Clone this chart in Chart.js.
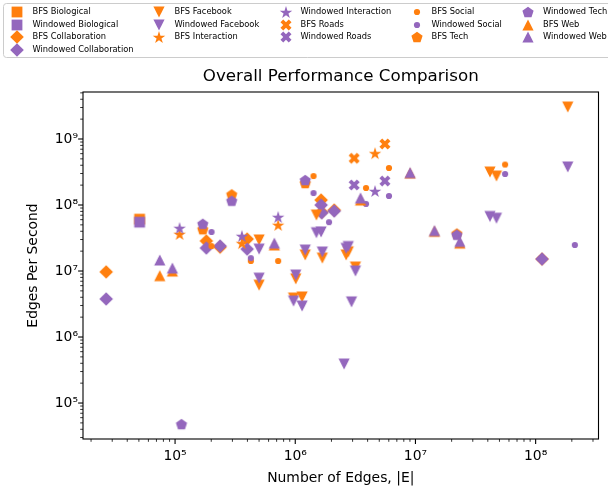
<!DOCTYPE html>
<html><head><meta charset="utf-8">
<script src="https://cdn.jsdelivr.net/npm/chart.js@4/dist/chart.umd.min.js"></script>
<style>html,body{margin:0;padding:0;background:#fff}#wrap{width:608px;height:491px}</style>
</head><body><div id="wrap"><canvas id="c"></canvas></div>
<script>
// ===== DATA ([edges, edges per second]) =====
const bfsBiological=[[5.07e4,6.1e7]];
const winBiological=[[5.07e4,5.5e7]];
const bfsCollaboration=[[2.67e4,9.7e6],[1.82e5,2.85e7],[2.37e5,2.3e7],[3.98e5,3.05e7],[1.64e6,1.19e8],[1.66e6,7.8e7],[2.11e6,8.4e7],[1.13e8,1.52e7]];
const winCollaboration=[[2.67e4,3.77e6],[1.82e5,2.23e7],[2.37e5,2.39e7],[3.98e5,2.15e7],[1.64e6,1.0e8],[1.66e6,7.6e7],[2.11e6,8.1e7],[1.13e8,1.52e7]];
const bfsFacebook=[[5.0e5,2.95e7],[1.5e6,7.05e7],[1.21e6,1.75e7],[1.68e6,1.57e7],[2.65e6,1.75e7],[2.76e6,1.95e7],[3.17e6,1.15e7],[5.0e5,6.1e6],[1.01e6,7.6e6],[9.68e5,3.9e6],[1.14e6,4.04e6],[1.85e8,3.05e9],[4.17e7,3.16e8],[4.72e7,2.75e8]];
const winFacebook=[[5.0e5,2.15e7],[1.5e6,3.8e7],[1.64e6,3.9e7],[1.21e6,2.08e7],[1.68e6,1.94e7],[2.65e6,2.2e7],[2.76e6,2.35e7],[3.17e6,1.0e7],[5.0e5,7.8e6],[1.01e6,8.7e6],[9.68e5,3.5e6],[1.14e6,2.95e6],[2.94e6,3.4e6],[2.55e6,3.9e5],[1.85e8,3.77e8],[4.17e7,6.7e7],[4.72e7,6.3e7]];
const bfsInteraction=[[1.09e5,3.64e7],[3.6e5,2.65e7],[7.21e5,5.0e7],[4.61e6,6.1e8]];
const winInteraction=[[1.09e5,4.5e7],[3.6e5,3.4e7],[7.21e5,6.6e7],[4.61e6,1.63e8]];
const bfsRoads=[[3.09e6,5.1e8],[5.57e6,8.4e8]];
const winRoads=[[3.09e6,2.01e8],[5.57e6,2.31e8]];
const bfsSocial=[[2.01e5,2.39e7],[4.27e5,1.42e7],[7.21e5,1.42e7],[1.42e6,2.75e8],[3.88e6,1.81e8],[6.02e6,3.64e8],[5.57e7,4.1e8]];
const winSocial=[[2.01e5,3.9e7],[4.27e5,1.57e7],[1.91e6,5.5e7],[1.42e6,1.52e8],[3.88e6,1.04e8],[6.02e6,1.37e8],[5.57e7,2.95e8],[2.12e8,2.48e7]];
const bfsTech=[[1.70e5,4.3e7],[2.96e5,1.45e8],[1.21e6,2.15e8],[2.21e7,3.7e7]];
const winTech=[[1.70e5,5.2e7],[2.96e5,1.16e8],[1.21e6,2.39e8],[2.21e7,3.55e7],[1.13e5,4.8e4]];
const bfsWeb=[[7.46e4,8.5e6],[9.5e4,1.0e7],[6.7e5,2.48e7],[3.49e6,1.19e8],[9.02e6,3.05e8],[1.44e7,4.0e7],[2.34e7,2.65e7]];
const winWeb=[[7.46e4,1.47e7],[9.5e4,1.11e7],[6.7e5,2.65e7],[3.49e6,1.28e8],[9.02e6,3.1e8],[1.44e7,4.1e7],[2.34e7,2.8e7]];

const X_MIN=Math.pow(10,4.234),X_MAX=Math.pow(10,8.523);
const Y_MIN=Math.pow(10,4.455),Y_MAX=Math.pow(10,9.712);

const ORANGE='#ff7f0e',PURPLE='#9467bd';
const FONT='"DejaVu Sans", sans-serif';

// ===== MARKERS =====
function marker(shape,color){
  const s=18,c=document.createElement('canvas');c.width=s;c.height=s;
  const g=c.getContext('2d');g.fillStyle=color;g.translate(s/2,s/2);g.beginPath();
  const poly=pts=>{pts.forEach((p,i)=>i?g.lineTo(p[0],p[1]):g.moveTo(p[0],p[1]));};
  if(shape==='square')g.rect(-5.4,-5.4,10.8,10.8);
  else if(shape==='diamond')poly([[0,-6.8],[6.8,0],[0,6.8],[-6.8,0]]);
  else if(shape==='tridown')poly([[-5.6,-5.6],[5.6,-5.6],[0,5.6]]);
  else if(shape==='triup')poly([[0,-5.6],[5.6,5.6],[-5.6,5.6]]);
  else if(shape==='circle')g.arc(0,0,3.1,0,Math.PI*2);
  else if(shape==='pentagon'){const p=[];for(let i=0;i<5;i++){const a=-Math.PI/2+i*2*Math.PI/5;p.push([5.9*Math.cos(a),5.9*Math.sin(a)+0.6]);}poly(p);}
  else if(shape==='star'){const p=[];for(let i=0;i<10;i++){const r=i%2?2.55:6.6,a=-Math.PI/2+i*Math.PI/5;p.push([r*Math.cos(a),r*Math.sin(a)+0.7]);}poly(p);}
  else if(shape==='x'){const u=1.95,base=[[-1,-3],[1,-3],[1,-1],[3,-1],[3,1],[1,1],[1,3],[-1,3],[-1,1],[-3,1],[-3,-1],[-1,-1]];
    const k=Math.SQRT1_2;poly(base.map(([a,b])=>[(a-b)*k*u,(a+b)*k*u]));}
  g.closePath();g.fill();return c;
}

const series=[
  ['BFS Biological',bfsBiological,'square',ORANGE],
  ['Windowed Biological',winBiological,'square',PURPLE],
  ['BFS Collaboration',bfsCollaboration,'diamond',ORANGE],
  ['Windowed Collaboration',winCollaboration,'diamond',PURPLE],
  ['BFS Facebook',bfsFacebook,'tridown',ORANGE],
  ['Windowed Facebook',winFacebook,'tridown',PURPLE],
  ['BFS Interaction',bfsInteraction,'star',ORANGE],
  ['Windowed Interaction',winInteraction,'star',PURPLE],
  ['BFS Roads',bfsRoads,'x',ORANGE],
  ['Windowed Roads',winRoads,'x',PURPLE],
  ['BFS Social',bfsSocial,'circle',ORANGE],
  ['Windowed Social',winSocial,'circle',PURPLE],
  ['BFS Tech',bfsTech,'pentagon',ORANGE],
  ['Windowed Tech',winTech,'pentagon',PURPLE],
  ['BFS Web',bfsWeb,'triup',ORANGE],
  ['Windowed Web',winWeb,'triup',PURPLE]
];
const datasets=series.map((s,i)=>({label:s[0],data:s[1].map(p=>({x:p[0],y:p[1]})),
  pointStyle:marker(s[2],s[3]),pointRadius:4,backgroundColor:s[3],borderColor:s[3],order:series.length-i}));

const SUP='⁰¹²³⁴⁵⁶⁷⁸⁹';
const powLabel=v=>{const e=Math.log10(v);if(Math.abs(e-Math.round(e))>1e-9)return '';return '10'+String(Math.round(e)).split('').map(d=>SUP[+d]).join('');};

// ===== PLUGINS: frame, tick marks, title, legend =====
const decor={id:'decor',afterDraw(chart){
  const ctx=chart.ctx,a=chart.chartArea;
  ctx.save();
  ctx.strokeStyle='#000';ctx.lineWidth=1.1;
  ctx.strokeRect(a.left,a.top,a.right-a.left,a.bottom-a.top);
  // tick marks, major longer than minor
  const marks=(scale,horiz)=>{
    scale.ticks.forEach(t=>{
      const v=t.value,e=Math.floor(Math.log10(v)+1e-9),m=v/Math.pow(10,e);
      if(Math.abs(m-Math.round(m))>1e-6)return;
      const len=Math.round(m)===1?4.9:2.8,p=scale.getPixelForValue(v);
      ctx.lineWidth=Math.round(m)===1?1.1:0.8;
      ctx.beginPath();
      if(horiz){ctx.moveTo(p,a.bottom);ctx.lineTo(p,a.bottom+len);}
      else{ctx.moveTo(a.left,p);ctx.lineTo(a.left-len,p);}
      ctx.stroke();
    });
  };
  marks(chart.scales.x,true);marks(chart.scales.y,false);
  // title
  ctx.fillStyle='#000';ctx.font='16.7px '+FONT;ctx.textAlign='center';ctx.textBaseline='middle';
  ctx.fillText('Overall Performance Comparison',(a.left+a.right)/2,77);
  // legend box
  ctx.beginPath();ctx.roundRect(3.5,3.5,640,54,3);
  ctx.fillStyle='rgba(255,255,255,0.8)';ctx.fill();
  ctx.strokeStyle='#cccccc';ctx.lineWidth=1;ctx.stroke();
  const mx=[16.5,159,286,417,528],tx=[32.5,174.5,300.5,431.5,543],ry=[12.3,24.8,37.3,49.8];
  const cols=[[0,1,2,3],[4,5,6],[7,8,9],[10,11,12],[13,14,15]];
  ctx.font='8.3px '+FONT;ctx.textAlign='left';ctx.fillStyle='#000';
  cols.forEach((col,ci)=>col.forEach((di,ri)=>{
    const img=datasets[di].pointStyle;
    ctx.drawImage(img,Math.round(mx[ci]-img.width/2),Math.round(ry[ri]-img.height/2));
    ctx.fillText(datasets[di].label,tx[ci],ry[ri]);
  }));
  ctx.restore();
}};

Chart.defaults.font.family=FONT;
Chart.defaults.color='#000';

new Chart(document.getElementById('c'),{type:'scatter',data:{datasets},
  options:{responsive:true,maintainAspectRatio:false,animation:false,events:[],
    layout:{padding:{top:92,right:6,left:0,bottom:0}},
    plugins:{legend:{display:false},title:{display:false},tooltip:{enabled:false}},
    scales:{
      x:{type:'logarithmic',min:X_MIN,max:X_MAX,
        grid:{display:false,drawTicks:false},border:{display:false},
        ticks:{autoSkip:false,maxRotation:0,padding:9.5,font:{size:13.9},callback:v=>powLabel(v)},
        title:{display:true,text:'Number of Edges, |E|',font:{size:13.9},padding:{top:0,bottom:4.7}},
        afterFit:s=>{s.height=52;}},
      y:{type:'logarithmic',min:Y_MIN,max:Y_MAX,
        grid:{display:false,drawTicks:false},border:{display:false},
        ticks:{autoSkip:false,padding:5,font:{size:13.9},callback:v=>powLabel(v)},
        title:{display:true,text:'Edges Per Second',font:{size:13.9},padding:{top:25.5,bottom:0}},
        afterFit:s=>{s.width=83;}}
    }},
  plugins:[decor]});
</script>
</body></html>
